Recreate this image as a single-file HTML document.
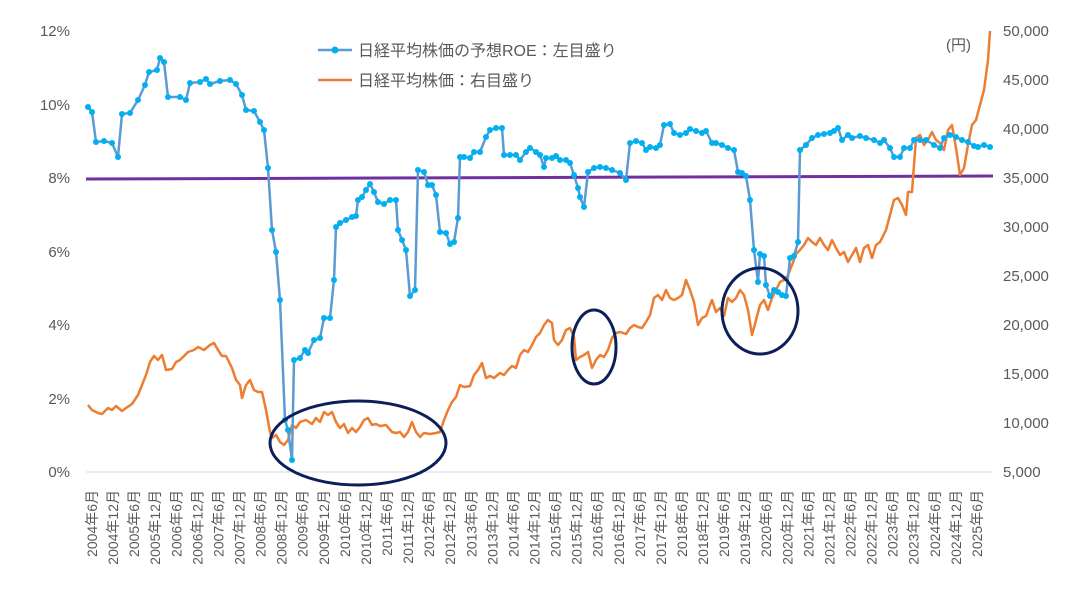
<!DOCTYPE html>
<html><head><meta charset="utf-8"><style>
body{margin:0;background:#fff}
text{font-family:"Liberation Sans","Noto Sans CJK JP",sans-serif;fill:#595959}
</style></head><body>
<svg width="1082" height="590" xmlns="http://www.w3.org/2000/svg">
<line x1="86" y1="472" x2="993" y2="472" stroke="#d9d9d9" stroke-width="1"/>
<g font-size="15" text-anchor="end">
<text x="70" y="477">0%</text><text x="70" y="404">2%</text><text x="70" y="330">4%</text><text x="70" y="257">6%</text><text x="70" y="183">8%</text><text x="70" y="110">10%</text><text x="70" y="36">12%</text>
</g>
<g font-size="15" text-anchor="start">
<text x="1003" y="477">5,000</text><text x="1003" y="428">10,000</text><text x="1003" y="379">15,000</text><text x="1003" y="330">20,000</text><text x="1003" y="281">25,000</text><text x="1003" y="232">30,000</text><text x="1003" y="183">35,000</text><text x="1003" y="134">40,000</text><text x="1003" y="85">45,000</text><text x="1003" y="36">50,000</text>
</g>
<text x="946" y="50" font-size="15">(円)</text>
<g id="xl" font-size="14" text-anchor="end"></g>
<line x1="86" y1="179" x2="993" y2="176" stroke="#7030a0" stroke-width="3"/>
<polyline id="org" fill="none" stroke="#ed7d31" stroke-width="2.5" stroke-linejoin="round"/>
<polyline id="blu" fill="none" stroke="#5b9bd5" stroke-width="2.5" stroke-linejoin="round"/>
<g id="mk" fill="#00b0f0"></g>
<g fill="none" stroke="#0c1f5a" stroke-width="3">
<ellipse cx="358" cy="443" rx="88" ry="42"/>
<ellipse cx="594" cy="347" rx="22" ry="37"/>
<ellipse cx="760" cy="311" rx="38" ry="43"/>
</g>
<line x1="318" y1="50" x2="352" y2="50" stroke="#5b9bd5" stroke-width="2.5"/><circle cx="335" cy="50" r="3.5" fill="#00b0f0"/>
<text x="358" y="56" font-size="16">日経平均株価の予想ROE：左目盛り</text>
<line x1="318" y1="80" x2="352" y2="80" stroke="#ed7d31" stroke-width="2.5"/>
<text x="358" y="86" font-size="16">日経平均株価：右目盛り</text>
</svg>
<script>
var b=[[88,107],[92,112],[96,142],[104,141],[112,143],[118,157],[122,114],[130,113],[138,100],[145,85],[149,72],[157,70],[160,58],[164,62],[168,97],[180,97],[186,100],[190,83],[200,82],[206,79],[210,84],[220,81],[230,80],[236,84],[242,95],[246,110],[254,111],[260,122],[264,130],[268,168],[272,230],[276,252],[280,300],[285,420],[288,430],[292,460],[294,360],[300,358],[305,350],[308,353],[314,340],[320,338],[324,318],[330,318],[334,280],[336,227],[340,223],[346,220],[352,217],[356,216],[358,200],[362,197],[366,190],[370,184],[374,192],[378,202],[384,204],[390,200],[396,200],[398,230],[402,240],[406,250],[410,296],[415,290],[418,170],[424,172],[428,185],[432,185],[436,195],[440,232],[446,233],[450,244],[454,242],[458,218],[460,157],[464,157],[470,158],[474,152],[480,152],[486,137],[490,130],[496,128],[502,128],[504,155],[510,155],[516,155],[520,160],[526,152],[530,148],[536,152],[540,155],[544,167],[546,158],[552,158],[556,156],[560,160],[566,160],[570,163],[574,175],[578,188],[580,197],[584,207],[588,172],[594,168],[600,167],[606,168],[612,170],[620,173],[626,180],[630,143],[636,141],[642,143],[646,150],[650,147],[656,148],[660,145],[664,125],[670,124],[674,133],[680,135],[686,133],[690,129],[696,131],[702,133],[706,131],[712,143],[716,143],[722,145],[728,148],[734,150],[738,172],[742,173],[746,176],[750,200],[754,250],[758,282],[760,254],[764,256],[766,285],[770,296],[774,290],[778,292],[782,295],[786,296],[790,258],[794,256],[798,242],[800,150],[806,145],[812,138],[818,135],[824,134],[830,133],[834,131],[838,128],[842,140],[848,135],[852,138],[860,136],[866,138],[874,140],[880,143],[884,140],[890,148],[894,157],[900,157],[904,148],[910,148],[914,140],[920,140],[926,140],[934,145],[940,148],[944,138],[950,135],[956,137],[962,140],[968,142],[974,146],[978,147],[984,145],[990,147]];
var o=[[88,405],[92,410],[98,413],[102,414],[108,408],[112,410],[116,406],[122,411],[126,408],[132,404],[138,395],[142,385],[146,375],[150,362],[154,356],[158,360],[162,355],[166,370],[172,369],[176,362],[180,360],[184,356],[188,352],[194,350],[198,347],[204,350],[210,345],[214,343],[218,350],[222,356],[226,356],[232,368],[236,380],[240,385],[242,398],[246,385],[250,380],[254,390],[258,392],[262,392],[266,410],[270,432],[272,438],[276,435],[280,442],[284,445],[288,440],[292,425],[296,428],[300,422],[306,420],[312,424],[316,418],[320,422],[324,412],[328,415],[332,412],[336,422],[340,428],[344,424],[348,433],[352,428],[356,432],[360,427],[364,420],[368,418],[372,425],[376,424],[380,426],[386,425],[392,432],[396,433],[400,432],[404,437],[408,432],[412,422],[416,432],[420,437],[424,433],[430,434],[436,433],[440,432],[444,420],[448,410],[452,402],[456,397],[460,385],[464,387],[470,386],[474,375],[478,370],[482,363],[486,378],[490,376],[494,378],[500,373],[504,375],[508,370],[512,366],[516,368],[520,355],[524,350],[528,352],[532,345],[536,337],[540,333],[544,325],[548,320],[552,323],[554,340],[558,345],[562,340],[566,330],[570,328],[574,337],[576,360],[580,357],[584,355],[588,352],[592,368],[596,360],[600,355],[604,357],[608,350],[612,338],[616,333],[620,332],[626,334],[630,328],[634,325],[638,327],[642,328],[646,322],[650,315],[654,298],[658,295],[662,300],[666,290],[670,298],[674,300],[678,298],[682,295],[686,280],[690,290],[694,302],[698,325],[702,318],[706,316],[710,305],[712,300],[716,312],[720,308],[724,316],[728,298],[732,302],[736,298],[740,290],[744,295],[748,310],[752,335],[756,320],[760,305],[764,300],[768,310],[772,298],[776,290],[780,282],[784,280],[788,275],[792,265],[796,254],[800,250],[804,245],[808,238],[812,242],[816,245],[820,238],[824,245],[828,250],[832,240],[836,248],[840,255],[844,252],[848,262],[852,255],[856,248],[860,262],[864,248],[868,245],[872,258],[876,245],[880,242],[886,230],[890,215],[894,200],[898,198],[902,205],[906,215],[908,192],[912,192],[916,138],[920,135],[924,145],[928,140],[932,132],[936,140],[940,143],[944,150],[948,130],[952,125],[956,148],[960,175],[964,168],[968,145],[972,125],[976,120],[980,105],[984,90],[988,60],[990,31]];
var s=function(a){return a.map(function(p){return p.join(',')}).join(' ')};
document.getElementById('org').setAttribute('points',s(o));
document.getElementById('blu').setAttribute('points',s(b));
var ns='http://www.w3.org/2000/svg',mk=document.getElementById('mk');
b.forEach(function(p){var c=document.createElementNS(ns,'circle');c.setAttribute('cx',p[0]);c.setAttribute('cy',p[1]);c.setAttribute('r',3);mk.appendChild(c);});
var xl=document.getElementById('xl');
for(var i=0;i<43;i++){var y=2004+Math.floor(i/2),m=i%2?'12':'6';var x=92+i*21.07;var t=document.createElementNS(ns,'text');t.setAttribute('transform','translate('+(x+5)+',490) rotate(-90)');t.textContent=y+'年'+m+'月';xl.appendChild(t);}
</script>
</body></html>
